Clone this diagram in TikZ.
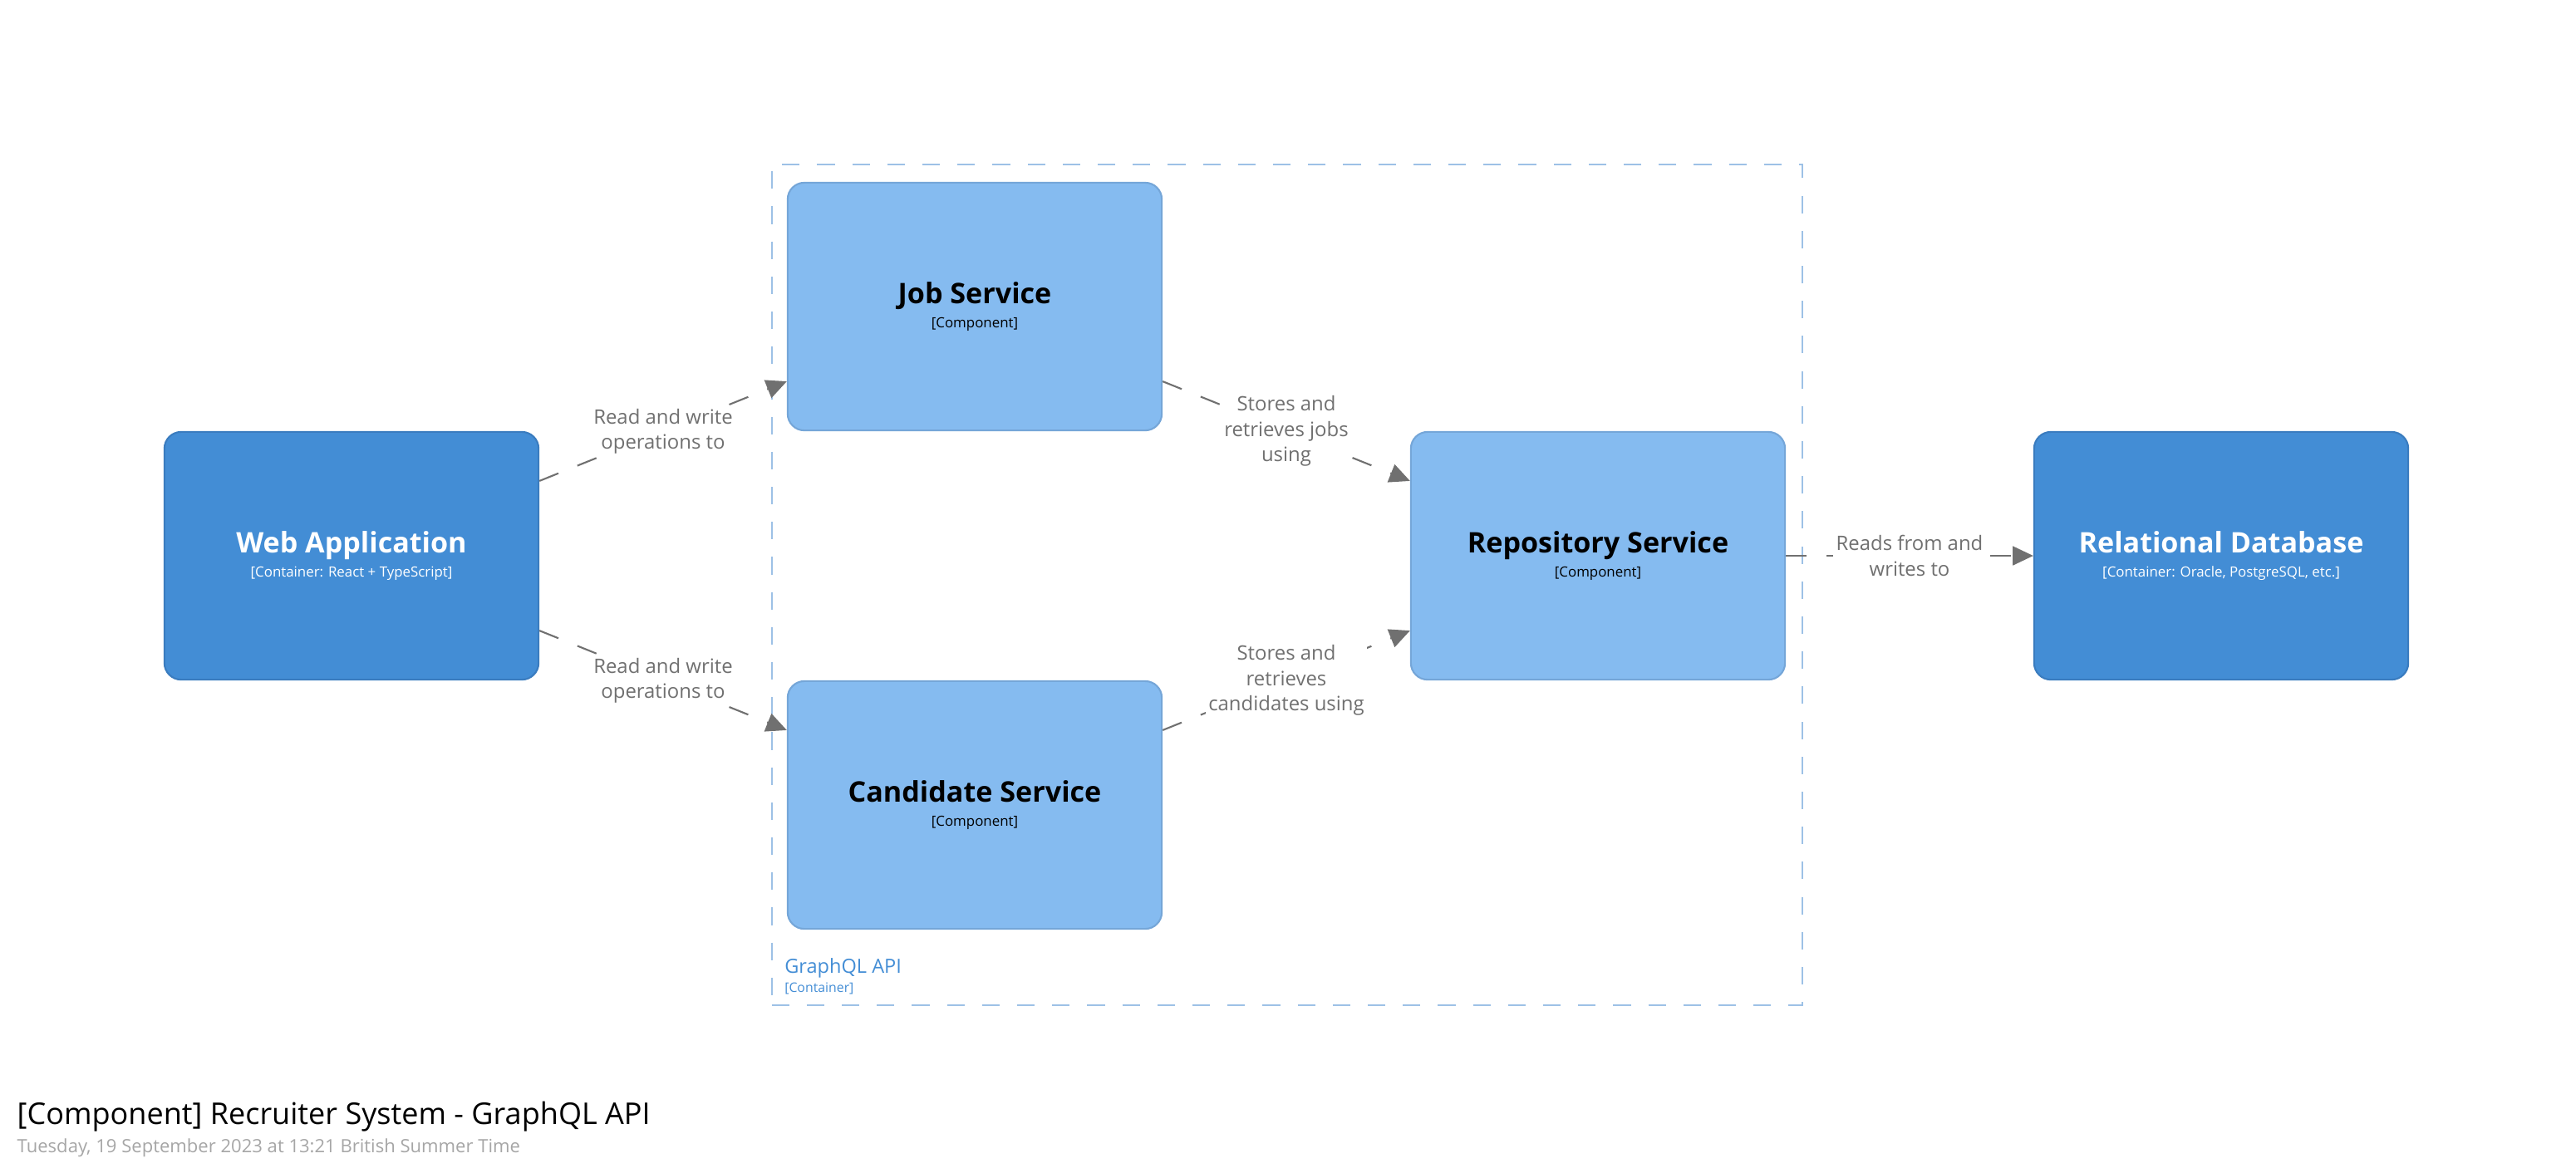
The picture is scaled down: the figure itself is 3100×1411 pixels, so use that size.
\documentclass[tikz,border=0pt]{standalone}
\usepackage{fontspec}
\setmainfont{Open Sans}
\usetikzlibrary{arrows.meta,calc}
\definecolor{contblue}{HTML}{438DD5}
\definecolor{contedge}{HTML}{3A7CBF}
\definecolor{compblue}{HTML}{85BBF0}
\definecolor{compedge}{HTML}{75A6D8}
\definecolor{relgray}{HTML}{707070}
\definecolor{boundblue}{HTML}{9DC1E6}
\definecolor{dategray}{HTML}{A6A6A6}
\newcommand{\elname}[1]{{\fontsize{9.7}{11}\selectfont\bfseries #1}}
\newcommand{\elmeta}[1]{{\fontsize{4.8}{6}\selectfont #1}}
\begin{document}
\begin{tikzpicture}[x=0.01cm, y=-0.01cm,
  box/.style={rounded corners=0.2cm, minimum width=4.5cm, minimum height=2.98cm, align=center, line width=0.6pt},
  container/.style={box, fill=contblue, draw=contedge, text=white},
  component/.style={box, fill=compblue, draw=compedge, text=black},
  rel/.style={draw=relgray, line width=0.6pt, dash pattern=on 7pt off 7pt, -{Triangle[length=7pt,width=6.5pt,fill=relgray]}},
  rellabel/.style={fill=white, text=relgray, font=\fontsize{6.8}{8.6}\selectfont, align=center, inner sep=1pt}]
\useasboundingbox (0,0) rectangle (3100,1411);
% container boundary
\node[draw=boundblue, line width=0.6pt, dash pattern=on 6pt off 6pt, minimum width=12.4cm, minimum height=10.12cm] (api) at (1549,704) {};
\node[anchor=west, inner sep=0, text=contblue, font=\fontsize{6.7}{8}\selectfont] (apiname) at ($(api.south west)+(16,-46)$) {GraphQL API};
\node[anchor=west, inner sep=0, text=contblue, font=\fontsize{4.5}{5}\selectfont] (apimeta) at ($(api.south west)+(16,-21)$) {[Container]};
% elements
\node[container] (web) at (423,669) {\elname{Web Application}\\[-3.5pt]\elmeta{[Container: React + TypeScript]}};
\node[component] (job) at (1173,369) {\elname{Job Service}\\[-3.5pt]\elmeta{[Component]}};
\node[component] (cand) at (1173,969) {\elname{Candidate Service}\\[-3.5pt]\elmeta{[Component]}};
\node[component] (repo) at (1923,669) {\elname{Repository Service}\\[-3.5pt]\elmeta{[Component]}};
\node[container] (db) at (2673,669) {\elname{Relational Database}\\[-3.5pt]\elmeta{[Container: Oracle, PostgreSQL, etc.]}};
% relationships
\draw[rel] ($(web.north east)!.2!(web.south east)$) -- node[rellabel]{Read and write\\operations to} ($(job.north west)!.8!(job.south west)$);
\draw[rel] ($(web.north east)!.8!(web.south east)$) -- node[rellabel]{Read and write\\operations to} ($(cand.north west)!.2!(cand.south west)$);
\draw[rel] ($(job.north east)!.8!(job.south east)$) -- node[rellabel]{Stores and\\retrieves jobs\\using} ($(repo.north west)!.2!(repo.south west)$);
\draw[rel] ($(cand.north east)!.2!(cand.south east)$) -- node[rellabel]{Stores and\\retrieves\\candidates using} ($(repo.north west)!.8!(repo.south west)$);
\draw[rel] (repo.east) -- node[rellabel]{Reads from and\\writes to} (db.west);
% title
\node[anchor=west, inner sep=0, font=\fontsize{10.25}{12}\selectfont] (title) at (20,1344) {[Component] Recruiter System - GraphQL API};
\node[anchor=west, inner sep=0, text=dategray, font=\fontsize{6.27}{8}\selectfont] (date) at (20,1382) {Tuesday, 19 September 2023 at 13:21 British Summer Time};
\end{tikzpicture}
\end{document}
